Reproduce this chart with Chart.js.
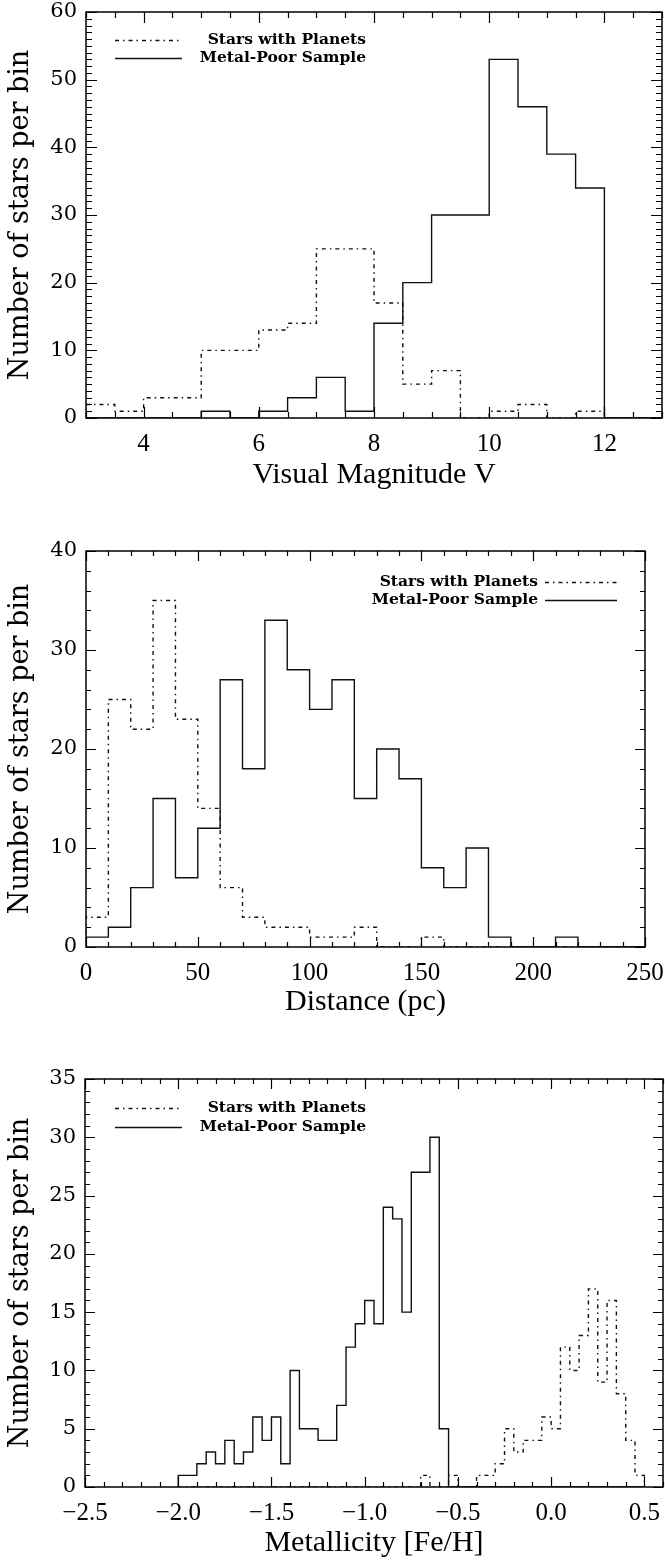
<!DOCTYPE html>
<html>
<head>
<meta charset="utf-8">
<script src="https://cdn.jsdelivr.net/npm/chart.js@4.4.1/dist/chart.umd.min.js"></script>
<style>
  html, body { margin: 0; padding: 0; background: #fff; }
  body { width: 665px; height: 1561px; position: relative; overflow: hidden; }
  canvas { position: absolute; left: 0; }
</style>
</head>
<body>
<canvas id="magChart" width="665" height="505" style="top:0"></canvas>
<canvas id="distChart" width="665" height="530" style="top:505px"></canvas>
<canvas id="fehChart" width="665" height="526" style="top:1035px"></canvas>
<script>
// --- panel 1: visual magnitude, 0.5 mag bins
const magEdges = [3.0, 3.5, 4.0, 4.5, 5.0, 5.5, 6.0, 6.5, 7.0, 7.5, 8.0, 8.5, 9.0, 9.5, 10.0, 10.5, 11.0, 11.5, 12.0, 12.5, 13.0];
const magPlanets   = [2, 1, 3, 3, 10, 10, 13, 14, 25, 25, 17, 5, 7, 0, 1, 2, 0, 1, 0, 0];
const magMetalPoor = [0, 0, 0, 0, 1, 0, 1, 3, 6, 1, 14, 20, 30, 30, 53, 46, 39, 34, 0, 0];
const magXTicks = [4, 6, 8, 10, 12];
const magYTicks = [0, 10, 20, 30, 40, 50, 60];

// --- panel 2: distance, 10 pc bins
const distEdges = [0, 10, 20, 30, 40, 50, 60, 70, 80, 90, 100, 110, 120, 130, 140, 150, 160, 170, 180, 190, 200, 210, 220, 230, 240, 250];
const distPlanets   = [3, 25, 22, 35, 23, 14, 6, 3, 2, 2, 1, 1, 2, 0, 0, 1, 0, 0, 0, 0, 0, 0, 0, 0, 0];
const distMetalPoor = [1, 2, 6, 15, 7, 12, 27, 18, 33, 28, 24, 27, 15, 20, 17, 8, 6, 10, 1, 0, 0, 1, 0, 0, 0];
const distXTicks = [0, 50, 100, 150, 200, 250];
const distYTicks = [0, 10, 20, 30, 40];

// --- panel 3: metallicity, 0.05 dex bins
const fehEdges = [-2.00, -1.95, -1.90, -1.85, -1.80, -1.75, -1.70, -1.65, -1.60, -1.55,
                  -1.50, -1.45, -1.40, -1.35, -1.30, -1.25, -1.20, -1.15, -1.10, -1.05,
                  -1.00, -0.95, -0.90, -0.85, -0.80, -0.75, -0.70, -0.65, -0.60, -0.55,
                  -0.50, -0.45, -0.40, -0.35, -0.30, -0.25, -0.20, -0.15, -0.10, -0.05,
                   0.00,  0.05,  0.10,  0.15,  0.20,  0.25,  0.30,  0.35,  0.40,  0.45, 0.50];
const fehMetalPoor = [1, 1, 2, 3, 2, 4, 2, 3, 6, 4,
                      6, 2, 10, 5, 5, 4, 4, 7, 12, 14,
                      16, 14, 24, 23, 15, 27, 27, 30, 5, 0,
                      0, 0, 0, 0, 0, 0, 0, 0, 0, 0,
                      0, 0, 0, 0, 0, 0, 0, 0, 0, 0];
const fehPlanets   = [0, 0, 0, 0, 0, 0, 0, 0, 0, 0,
                      0, 0, 0, 0, 0, 0, 0, 0, 0, 0,
                      0, 0, 0, 0, 0, 0, 1, 0, 0, 1,
                      0, 0, 1, 1, 2, 5, 3, 4, 4, 6,
                      5, 12, 10, 13, 17, 9, 16, 8, 4, 1];
const fehXTicks = [-2.5, -2.0, -1.5, -1.0, -0.5, 0.0, 0.5];
const fehYTicks = [0, 5, 10, 15, 20, 25, 30, 35];

const seriesLabels = ['Stars with Planets', 'Metal-Poor Sample'];
const yTitle = 'Number of stars per bin';

Chart.defaults.font.family = '"DejaVu Serif", serif';
Chart.defaults.color = '#000';

const timesFont = '"Liberation Serif", "Times New Roman", serif';

// histogram outline as points for a stepped line
function stepPoints(edges, counts){
    const pts = [{x: edges[0], y: 0}];
    counts.forEach((c, i) => pts.push({x: edges[i], y: c}));
    pts.push({x: edges[edges.length - 1], y: 0});
    return pts;
}

function tickMarks(min, max, minor, major){
    const out = [];
    for(let k = Math.ceil(min / minor - 1e-9); k <= Math.floor(max / minor + 1e-9); k++){
        const v = k * minor;
        const r = v / major;
        out.push([v, Math.abs(r - Math.round(r)) < 1e-6]);
    }
    return out;
}

// box round the plot with inward ticks on all four sides
const framePlugin = {
    id: 'frame',
    afterDatasetsDraw(chart, args, o){
        const {ctx, chartArea: a, scales: {x, y}} = chart;
        ctx.save();
        ctx.strokeStyle = '#000';
        ctx.lineWidth = 1.5;
        ctx.strokeRect(a.left, a.top, a.right - a.left, a.bottom - a.top);
        ctx.lineWidth = 1.2;
        ctx.beginPath();
        tickMarks(x.min, x.max, o.xMinor, o.xMajor).forEach(([v, big]) => {
            const px = Math.round(x.getPixelForValue(v)) + 0.5;
            const len = big ? o.majorLen : o.minorLen;
            ctx.moveTo(px, a.bottom); ctx.lineTo(px, a.bottom - len);
            ctx.moveTo(px, a.top); ctx.lineTo(px, a.top + len);
        });
        tickMarks(y.min, y.max, o.yMinor, o.yMajor).forEach(([v, big]) => {
            const py = Math.round(y.getPixelForValue(v)) + 0.5;
            const len = big ? o.majorLen : o.minorLen;
            ctx.moveTo(a.left, py); ctx.lineTo(a.left + len, py);
            ctx.moveTo(a.right, py); ctx.lineTo(a.right - len, py);
        });
        ctx.stroke();
        ctx.restore();
    }
};

// legend: text right aligned, line sample on one side
const histLegend = {
    id: 'histLegend',
    afterDraw(chart, args, o){
        const ctx = chart.ctx;
        ctx.save();
        ctx.font = 'bold 15.5px "DejaVu Serif", serif';
        ctx.fillStyle = '#000';
        ctx.textAlign = 'right';
        ctx.textBaseline = 'middle';
        chart.data.datasets.forEach((ds, i) => {
            const y = o.rows[i];
            ctx.fillText(ds.label, o.textRight, y);
            ctx.beginPath();
            ctx.setLineDash(ds.borderDash || []);
            ctx.lineWidth = ds.borderWidth;
            ctx.strokeStyle = ds.borderColor;
            ctx.moveTo(o.lineFrom, y + 0.5);
            ctx.lineTo(o.lineTo, y + 0.5);
            ctx.stroke();
        });
        ctx.restore();
    }
};

function makeHist(id, c){
    return new Chart(document.getElementById(id), {
        type: 'line',
        data: {
            datasets: [
                { label: seriesLabels[0], data: stepPoints(c.edges, c.planets), stepped: 'before',
                  borderColor: '#111', borderWidth: 1.4, borderDash: [4, 4, 1.5, 4], pointRadius: 0, fill: false },
                { label: seriesLabels[1], data: stepPoints(c.edges, c.metalPoor), stepped: 'before',
                  borderColor: '#111', borderWidth: 1.4, pointRadius: 0, fill: false }
            ]
        },
        options: {
            responsive: false,
            animation: false,
            events: [],
            layout: { padding: { top: c.padTop, right: c.padRight, left: 0, bottom: 0 } },
            scales: {
                x: {
                    type: 'linear', min: c.xMin, max: c.xMax,
                    afterBuildTicks: s => { s.ticks = c.xTicks.map(v => ({value: v})); },
                    afterFit: s => { s.height = c.xHeight; s.paddingLeft = 0; s.paddingRight = 0; },
                    grid: { display: false, drawTicks: false },
                    border: { display: false },
                    ticks: { font: { family: timesFont, size: 25 }, padding: c.xLabelPad, maxRotation: 0, autoSkip: false, callback: c.xFmt },
                    title: { display: true, text: c.xTitle, font: { family: timesFont, size: 30 }, padding: { top: 0, bottom: c.xTitlePad } }
                },
                y: {
                    type: 'linear', min: 0, max: c.yMax,
                    afterBuildTicks: s => { s.ticks = c.yTicks.map(v => ({value: v})); },
                    afterFit: s => { s.width = c.yWidth; s.paddingTop = 0; s.paddingBottom = 0; },
                    grid: { display: false, drawTicks: false },
                    border: { display: false },
                    ticks: { font: { size: 21 }, padding: 9, autoSkip: false },
                    title: { display: true, text: yTitle, font: { size: 27 }, padding: { top: 5, bottom: 0 } }
                }
            },
            plugins: {
                legend: { display: false },
                tooltip: { enabled: false },
                frame: c.frame,
                histLegend: c.legend
            }
        },
        plugins: [framePlugin, histLegend]
    });
}

makeHist('magChart', {
    edges: magEdges, planets: magPlanets, metalPoor: magMetalPoor,
    xMin: 3, xMax: 13, yMax: 60, xTicks: magXTicks, yTicks: magYTicks,
    xTitle: 'Visual Magnitude V', xFmt: v => String(v),
    padTop: 12, padRight: 3, yWidth: 86, xHeight: 87, xLabelPad: 11, xTitlePad: 12,
    frame: { xMinor: 0.5, xMajor: 2, yMinor: 1, yMajor: 10, majorLen: 11, minorLen: 6 },
    legend: { rows: [40, 58], textRight: 366, lineFrom: 115, lineTo: 182 }
});

makeHist('distChart', {
    edges: distEdges, planets: distPlanets, metalPoor: distMetalPoor,
    xMin: 0, xMax: 250, yMax: 40, xTicks: distXTicks, yTicks: distYTicks,
    xTitle: 'Distance (pc)', xFmt: v => String(v),
    padTop: 46, padRight: 20, yWidth: 86, xHeight: 88, xLabelPad: 11, xTitlePad: 15,
    frame: { xMinor: 10, xMajor: 50, yMinor: 2, yMajor: 10, majorLen: 10, minorLen: 5 },
    legend: { rows: [77, 95], textRight: 538, lineFrom: 545, lineTo: 617 }
});

makeHist('fehChart', {
    edges: fehEdges, planets: fehPlanets, metalPoor: fehMetalPoor,
    xMin: -2.5, xMax: 0.6, yMax: 35, xTicks: fehXTicks, yTicks: fehYTicks,
    xTitle: 'Metallicity [Fe/H]', xFmt: v => (v < 0 ? '\u2212' : '') + Math.abs(v).toFixed(1),
    padTop: 44, padRight: 2, yWidth: 85, xHeight: 74, xLabelPad: 11, xTitlePad: 0,
    frame: { xMinor: 0.1, xMajor: 0.5, yMinor: 1, yMajor: 5, majorLen: 10, minorLen: 5 },
    legend: { rows: [73, 92], textRight: 366, lineFrom: 115, lineTo: 182 }
});
</script>
</body>
</html>
